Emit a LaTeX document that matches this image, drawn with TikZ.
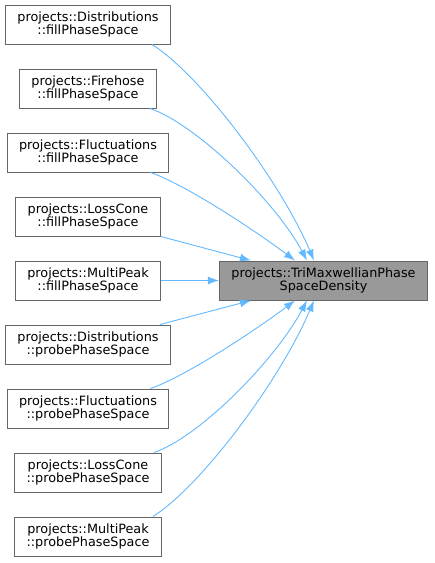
\documentclass[tikz,border=0pt]{standalone}
\usepackage{fontspec}
\setmainfont{DejaVu Sans}
\usetikzlibrary{arrows.meta}

\definecolor{edgeblue}{HTML}{63B8FF}
\definecolor{boxline}{HTML}{666666}
\definecolor{boxfill}{HTML}{999999}

\tikzset{
    caller/.style={draw=boxline, fill=white, line width=1pt, align=center,
        inner xsep=12pt, minimum height=39pt,
        font=\fontsize{12.8}{13}\selectfont},
    callee/.style={caller, fill=boxfill},
    calls/.style={draw=edgeblue, line width=0.9pt, ->}
}

\begin{document}
\begin{tikzpicture}[x=1pt, y=-1pt, >={Latex[length=11pt,width=8pt]}]
            \useasboundingbox (0, 0) rectangle (435, 563);
            % the function that is called
            \node[callee] (tri) at (323.5, 280.5) {projects::TriMaxwellianPhase\\SpaceDensity};
            % its callers
            \node[caller] (distFill) at (88, 24.5) {projects::Distributions\\::fillPhaseSpace};
            \node[caller] (fireFill) at (88, 88.5) {projects::Firehose\\::fillPhaseSpace};
            \node[caller] (flucFill) at (88, 152.5) {projects::Fluctuations\\::fillPhaseSpace};
            \node[caller] (lossFill) at (88, 216.5) {projects::LossCone\\::fillPhaseSpace};
            \node[caller] (peakFill) at (88, 280.5) {projects::MultiPeak\\::fillPhaseSpace};
            \node[caller] (distProbe) at (88, 344.5) {projects::Distributions\\::probePhaseSpace};
            \node[caller] (flucProbe) at (88, 408.5) {projects::Fluctuations\\::probePhaseSpace};
            \node[caller] (lossProbe) at (88, 472.5) {projects::LossCone\\::probePhaseSpace};
            \node[caller] (peakProbe) at (88, 536.5) {projects::MultiPeak\\::probePhaseSpace};
            % calls from above
            \draw[calls] ([xshift=-19pt]distFill.south east) .. controls +(48, 30) and +(-34, -80) .. ([xshift=-9.5pt]tri.north);
            \draw[calls] ([xshift=-7pt]fireFill.south east) .. controls +(45, 15) and +(-32, -60) .. ([xshift=-16.5pt]tri.north);
            \draw[calls] ([xshift=-19pt]flucFill.south east) .. controls +(35, 12) and +(-40, -30) .. ([xshift=-28.5pt]tri.north);
            \draw[calls] (lossFill.south east) -- ([xshift=32pt]tri.north west);
            \draw[calls] (peakFill) -- (tri);
            % calls from below
            \draw[calls] ([xshift=-11pt]distProbe.north east) -- ([xshift=32pt]tri.south west);
            \draw[calls] ([xshift=-19pt]flucProbe.north east) .. controls +(35, -12) and +(-40, 30) .. ([xshift=-28.5pt]tri.south);
            \draw[calls] ([xshift=-8pt]lossProbe.north east) .. controls +(45, -15) and +(-32, 60) .. ([xshift=-16.5pt]tri.south);
            \draw[calls] ([xshift=-9pt]peakProbe.north east) .. controls +(48, -30) and +(-34, 80) .. ([xshift=-9.5pt]tri.south);
\end{tikzpicture}
\end{document}
